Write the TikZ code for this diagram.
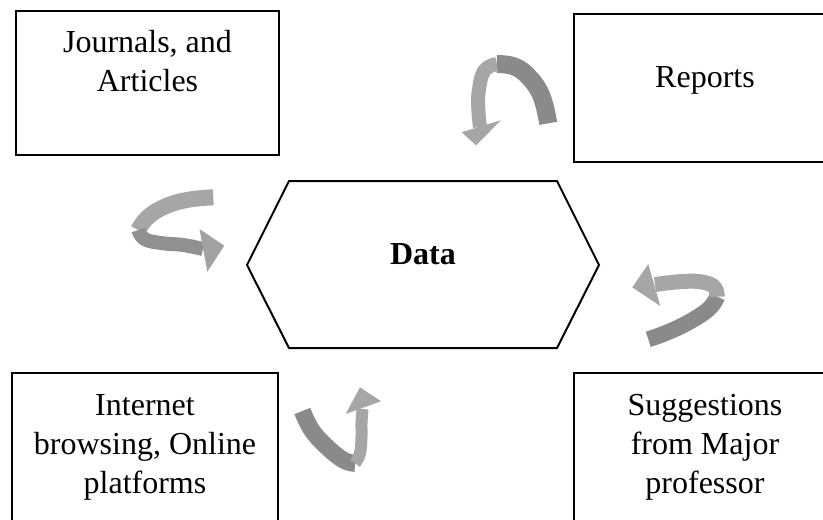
\documentclass[tikz,border=0pt]{standalone}
\usepackage{fontspec}
\setmainfont{Liberation Serif}
\definecolor{ribdark}{HTML}{8A8A8A}
\definecolor{riblight}{HTML}{A6A6A6}
\begin{document}
\begin{tikzpicture}[x=1pt,y=-1pt,
  box/.style={draw=black, line width=2pt, rectangle, inner sep=0pt},
  txt/.style={inner sep=0pt, anchor=base, font=\fontsize{32}{39}\selectfont},
  ribbon/.style={line cap=butt, line join=round},
  headfill/.style={fill=riblight}]
\useasboundingbox (0,0) rectangle (823,520);
\fill[white] (0,0) rectangle (823,520);

% boxes
\node[box, minimum width=263pt, minimum height=144pt] (journals) at (147.5,83) {};
\node[box, minimum width=262pt, minimum height=148pt] (reports) at (705,88) {};
\node[box, minimum width=266pt, minimum height=162pt] (internet) at (145,454) {};
\node[box, minimum width=262pt, minimum height=162pt] (suggest) at (705,454) {};

% texts
\node[txt] (jt) at (147.5,52) {\begin{tabular}[t]{@{}c@{}}Journals, and\\Articles\end{tabular}};
\node[txt] (rt) at (705,87) {Reports};
\node[txt] (it) at (145,415) {\begin{tabular}[t]{@{}c@{}}Internet\\browsing, Online\\platforms\end{tabular}};
\node[txt] (st) at (705,415) {\begin{tabular}[t]{@{}c@{}}Suggestions\\from Major\\professor\end{tabular}};

% hexagon
\draw[line width=2pt, line join=miter] (247,265) -- (289,181) -- (557,181) -- (599,265) -- (557,348) -- (289,348) -- cycle;
\node[txt, font=\fontsize{32}{39}\selectfont\bfseries] (data) at (423,264) {Data};

% arrow 1 (top, near Reports)
\draw[ribbon, line width=18pt, ribdark] plot[smooth, tension=0.7] coordinates {(548.3,123.3) (541.7,96.7) (530,78.3) (515,66.7) (496.7,64)};
\draw[ribbon, line width=14pt, riblight] plot[smooth, tension=0.7] coordinates {(496.7,64) (484,71) (478.5,93.3) (478.5,112) (480,127)};
\fill[headfill] (461.7,132.2) -- (501,120.2) -- (476,145.3) -- cycle;

% arrow 2 (left)
\draw[ribbon, line width=16pt, riblight] plot[smooth, tension=0.7] coordinates {(213.3,197.3) (186.7,200) (163.3,207.3) (146.7,218.3) (138.3,230)};
\draw[ribbon, line width=14pt, ribdark!80!riblight] plot[smooth, tension=0.7] coordinates {(138.3,230) (145,239.3) (163.3,243.3) (183.3,245) (203,249)};
\fill[riblight!85!ribdark] (199.5,229) -- (207.3,271.7) -- (224.3,245.7) -- cycle;

% arrow 3 (right)
\draw[ribbon, line width=16pt, ribdark] plot[smooth, tension=0.7] coordinates {(648.3,339.3) (665,333.3) (686.7,323.3) (708.3,309.3) (717.3,296.7)};
\draw[ribbon, line width=15pt, riblight] plot[smooth, tension=0.7] coordinates {(717.3,296.7) (714,286.7) (700,281.7) (680,281.7) (655,284.5)};
\fill[headfill] (648.3,264) -- (660.3,306) -- (632.3,287.3) -- cycle;

% arrow 4 (bottom)
\draw[ribbon, line width=17pt, ribdark] plot[smooth, tension=0.7] coordinates {(302.3,411) (311.7,430) (326.7,446.7) (343.3,460) (355,463.3)};
\draw[ribbon, line width=12pt, riblight] plot[smooth, tension=0.7] coordinates {(355,463.3) (360,453.3) (361.5,436.7) (361.5,423.3) (362.5,409)};
\fill[headfill] (345.7,414) -- (381,401.2) -- (360,387.3) -- cycle;
\end{tikzpicture}
\end{document}
